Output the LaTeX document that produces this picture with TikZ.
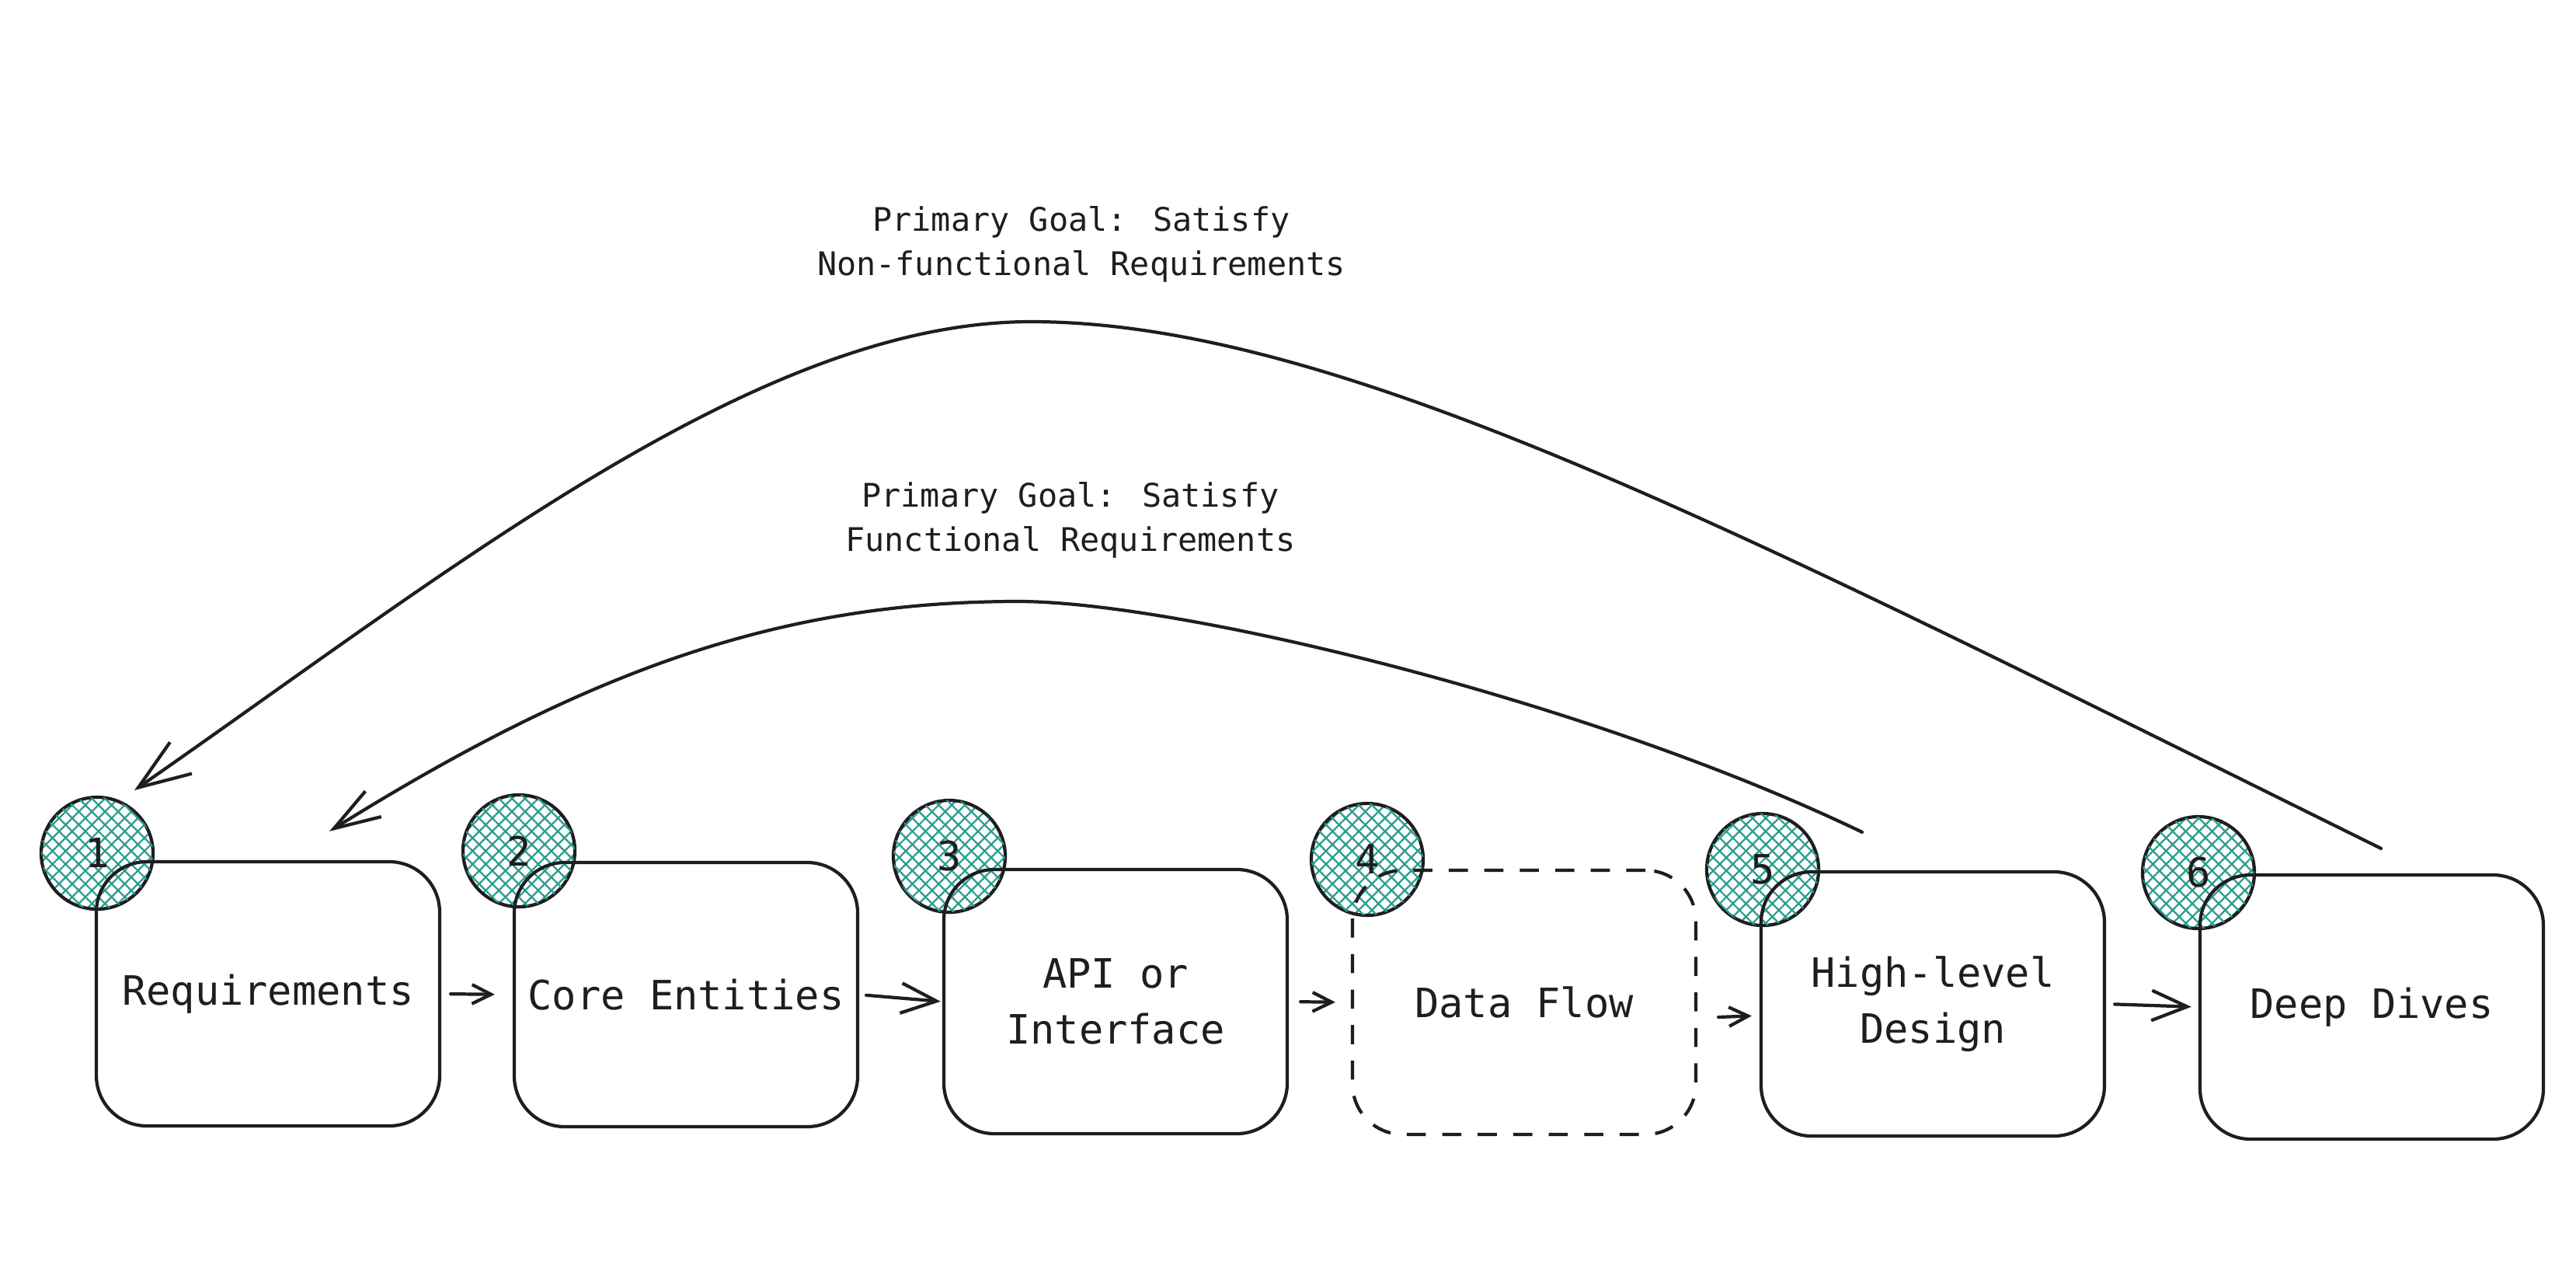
\documentclass[tikz,border=0pt]{standalone}
\usepackage{fontspec}
\setmainfont{DejaVu Sans Mono}
\usetikzlibrary{arrows.meta,patterns.meta}
\definecolor{ink}{HTML}{1E1E1E}
\definecolor{hatchteal}{RGB}{42,157,143}

\begin{document}
\begin{tikzpicture}[
  flowbox/.style={draw=ink, line width=1.2pt, rounded corners=0.65cm,
    minimum width=4.42cm, minimum height=3.40cm, align=center,
    text=ink, font=\fontsize{14.8}{20.5}\selectfont},
  badge/.style={circle, draw=ink, line width=1.2pt, minimum size=1.44cm,
    inner sep=0pt, text=ink, font=\fontsize{14.8}{20.5}\selectfont,
    pattern={Lines[angle=45,distance=3.4pt,line width=0.65pt]},
    pattern color=hatchteal,
    postaction={pattern={Lines[angle=-45,distance=3.4pt,line width=0.65pt]},
      pattern color=hatchteal}},
  goallabel/.style={align=center, text=ink,
    font=\fontsize{11.9}{16.2}\selectfont},
  stepsmall/.style={draw=ink, line width=1.2pt, line cap=round,
    -{Straight Barb[length=7pt,width=7pt]}},
  stepbig/.style={draw=ink, line width=1.2pt, line cap=round,
    -{Straight Barb[length=13pt,width=11pt]}},
  goalarrow/.style={draw=ink, line width=1.2pt, line cap=round}
]
\useasboundingbox (0,0) rectangle (33.16,-16.36);

% --- numbered badges ---
\node[badge] (b1) at (1.25,-10.98) {1};
\node[badge] (b2) at (6.68,-10.95) {2};
\node[badge] (b3) at (12.22,-11.02) {3};
\node[badge] (b4) at (17.60,-11.06) {4};
\node[badge] (b5) at (22.69,-11.19) {5};
\node[badge] (b6) at (28.30,-11.23) {6};

% --- steps ---
\node[flowbox] (req)  at (3.45,-12.79)  {Requirements};
\node[flowbox] (core) at (8.83,-12.80)  {Core Entities};
\node[flowbox] (api)  at (14.36,-12.89) {API or\\Interface};
\node[flowbox, dash pattern=on 7pt off 6pt] (flow) at (19.62,-12.90) {Data Flow};
\node[flowbox] (hld)  at (24.88,-12.92) {High-level\\Design};
\node[flowbox] (dive) at (30.53,-12.96) {Deep Dives};

% --- forward arrows ---
\draw[stepsmall, shorten <=0.12cm, shorten >=0.23cm] (req.east) -- (core.west);
\draw[stepbig, shorten <=0.09cm, shorten >=0.02cm] (core.east) -- (api.west);
\draw[stepsmall, shorten <=0.15cm, shorten >=0.20cm] (api.east) -- (flow.west);
\draw[stepsmall, shorten <=0.27cm, shorten >=0.10cm]
  ([yshift=-0.2cm]flow.east) -- ([yshift=-0.15cm]hld.west);
\draw[stepbig, shorten <=0.11cm, shorten >=0.09cm] (hld.east) -- (dive.west);

% --- goal labels ---
\node[goallabel] (nfgoal) at (13.92,-3.14)
  {Primary Goal: Satisfy\\Non-functional Requirements};
\node[goallabel] (fgoal) at (13.78,-6.69)
  {Primary Goal: Satisfy\\Functional Requirements};

% --- loop back: non-functional ---
\draw[goalarrow, -{Straight Barb[length=19pt,width=14pt]}]
  ([shift={(0.12,0.32)}]dive.north)
  .. controls (22.59,-6.94) and (17.27,-4.14) .. (13.27,-4.14)
  .. controls (9.77,-4.14) and (5.83,-7.32) .. ([shift={(0.48,0.81)}]b1.center);

% --- loop back: functional ---
\draw[goalarrow, -{Straight Barb[length=17pt,width=11pt]}]
  ([shift={(-0.91,0.49)}]hld.north)
  .. controls (20.37,-8.98) and (15.11,-7.74) .. (13.11,-7.74)
  .. controls (10.11,-7.74) and (7.64,-8.58) .. ([shift={(0.79,0.37)}]req.north);
\end{tikzpicture}
\end{document}
